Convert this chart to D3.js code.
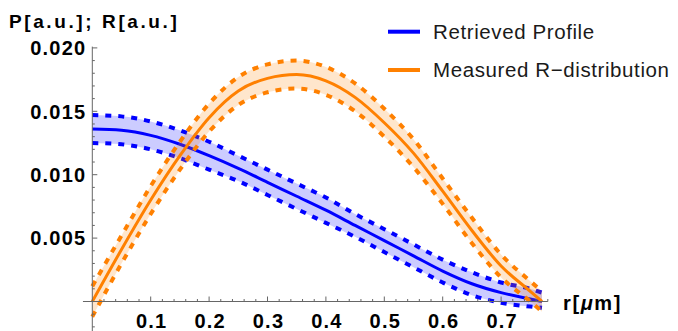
<!DOCTYPE html>
<html>
<head>
<meta charset="utf-8">
<script src="https://cdn.jsdelivr.net/npm/d3@7"></script>
<style>
    body { margin: 0; background: #fff; }
    text { font-family: "Liberation Sans", Arial, sans-serif; }
</style>
</head>
<body>
<svg id="chart"></svg>
<script>
// radius grid, micrometres
const rValues = [0, 0.05, 0.10, 0.15, 0.20, 0.25, 0.30, 0.35, 0.40, 0.45, 0.50, 0.55, 0.60, 0.65, 0.70, 0.75, 0.77];

// retrieved profile P(r) with its band
const blueMean = [0.0136, 0.0135, 0.0131, 0.0124, 0.0115, 0.0105, 0.0094, 0.0083, 0.0072, 0.0060, 0.0048, 0.0036, 0.0024, 0.0014, 0.0007, 0.0002, 0.0000];
const blueHigh = [0.0147, 0.0146, 0.0142, 0.0135, 0.0126, 0.0115, 0.0104, 0.0093, 0.0082, 0.0069, 0.0057, 0.0045, 0.0033, 0.0023, 0.0015, 0.0010, 0.0007];
const blueLow  = [0.0125, 0.0124, 0.0120, 0.0113, 0.0104, 0.0095, 0.0084, 0.0073, 0.0062, 0.0051, 0.0039, 0.0027, 0.0015, 0.0005, -0.0001, -0.0004, -0.0005];

// measured R distribution with its band
const orangeMean = [0.0000, 0.0041, 0.0080, 0.0115, 0.0145, 0.0166, 0.0176, 0.0179, 0.0174, 0.0161, 0.0141, 0.0117, 0.0087, 0.0056, 0.0028, 0.0008, 0.0000];
const orangeHigh = [0.0012, 0.0052, 0.0091, 0.0126, 0.0156, 0.0177, 0.0187, 0.0190, 0.0185, 0.0172, 0.0152, 0.0128, 0.0097, 0.0066, 0.0037, 0.0016, 0.0008];
const orangeLow  = [-0.0012, 0.0030, 0.0069, 0.0104, 0.0134, 0.0155, 0.0165, 0.0168, 0.0163, 0.0150, 0.0130, 0.0106, 0.0077, 0.0046, 0.0019, 0.0000, -0.0008];

const xTicks = [0.1, 0.2, 0.3, 0.4, 0.5, 0.6, 0.7];
const xTickLabels = ['0.1', '0.2', '0.3', '0.4', '0.5', '0.6', '0.7'];
const yTicks = [0.005, 0.010, 0.015, 0.020];
const yTickLabels = ['0.005', '0.010', '0.015', '0.020'];
const seriesNames = ['Retrieved Profile', 'Measured R\u2212distribution'];

class BandChart {
    constructor(config) {
        this.config = {
            parent: config.parent,
            width: config.width || 678,
            height: config.height || 331
        };
        this.init();
    }

    init() {
        let self = this;

        self.svg = d3.select(self.config.parent)
            .attr('width', self.config.width)
            .attr('height', self.config.height);

        self.xscale = d3.scaleLinear()
            .domain([0, 0.7])
            .range([92.3, 501.1]);

        self.yscale = d3.scaleLinear()
            .domain([0, 0.02])
            .range([301.5, 47.9]);

        self.plot = self.svg.append('g');
        self.axes = self.svg.append('g');
    }

    render() {
        let self = this;
        const x = self.xscale, y = self.yscale;

        const series = [
            { mean: blueMean, low: blueLow, high: blueHigh, color: '#0000ff', fill: 'rgba(0,0,255,0.2)' },
            { mean: orangeMean, low: orangeLow, high: orangeHigh, color: '#ff8000', fill: 'rgba(255,128,0,0.2)' }
        ];

        const area = (lo, hi) => d3.area()
            .x((d, i) => x(rValues[i]))
            .y0((d, i) => y(lo[i]))
            .y1((d, i) => y(hi[i]))
            .curve(d3.curveMonotoneX)(rValues);

        const line = vals => d3.line()
            .x((d, i) => x(rValues[i]))
            .y((d, i) => y(vals[i]))
            .curve(d3.curveMonotoneX)(rValues);

        series.forEach(s => {
            self.plot.append('path')
                .attr('d', area(s.low, s.high))
                .attr('fill', s.fill);
            [s.low, s.high].forEach(b => {
                self.plot.append('path')
                    .attr('d', line(b))
                    .attr('fill', 'none')
                    .attr('stroke', s.color)
                    .attr('stroke-width', 4)
                    .attr('stroke-dasharray', '6,7');
            });
            self.plot.append('path')
                .attr('d', line(s.mean))
                .attr('fill', 'none')
                .attr('stroke', s.color)
                .attr('stroke-width', 3);
        });

        // axes cross at the origin
        const axisColor = '#666';
        const gx = self.axes.append('g').attr('transform', `translate(0, ${y(0)})`);
        gx.append('line')
            .attr('x1', x(-0.016)).attr('x2', x(0.78))
            .attr('stroke', axisColor);
        const xMinor = d3.range(1, 40).map(k => k * 0.02).filter((v, i) => (i + 1) % 5 !== 0);
        gx.selectAll('.minor').data(xMinor).join('line')
            .attr('x1', d => x(d)).attr('x2', d => x(d))
            .attr('y1', 0).attr('y2', -2.5)
            .attr('stroke', axisColor);
        gx.selectAll('.major').data(xTicks).join('line')
            .attr('x1', d => x(d)).attr('x2', d => x(d))
            .attr('y1', 0).attr('y2', -5)
            .attr('stroke', axisColor);
        gx.selectAll('text').data(xTicks).join('text')
            .attr('x', d => x(d) + 1)
            .attr('y', 26)
            .attr('text-anchor', 'middle')
            .style('font-size', '20px')
            .style('font-weight', 'bold')
            .style('letter-spacing', '1.2px')
            .text((d, i) => xTickLabels[i]);

        const gy = self.axes.append('g').attr('transform', `translate(${x(0)}, 0)`);
        gy.append('line')
            .attr('y1', y(0.0201)).attr('y2', y(-0.0025))
            .attr('stroke', axisColor);
        const yMinor = d3.range(-2, 21).map(k => k * 0.001).filter(v => Math.round(v * 1000) % 5 !== 0);
        gy.selectAll('.minor').data(yMinor).join('line')
            .attr('y1', d => y(d)).attr('y2', d => y(d))
            .attr('x1', 0).attr('x2', 2.5)
            .attr('stroke', axisColor);
        gy.selectAll('.major').data(yTicks).join('line')
            .attr('y1', d => y(d)).attr('y2', d => y(d))
            .attr('x1', 0).attr('x2', 5)
            .attr('stroke', axisColor);
        gy.selectAll('text').data(yTicks).join('text')
            .attr('x', -6)
            .attr('y', d => y(d))
            .attr('dy', '0.36em')
            .attr('text-anchor', 'end')
            .style('font-size', '20px')
            .style('font-weight', 'bold')
            .style('letter-spacing', '1.2px')
            .text((d, i) => yTickLabels[i]);

        // axis labels
        self.svg.append('text')
            .attr('x', 9)
            .attr('y', 28)
            .style('font-size', '19px')
            .style('font-weight', 'bold')
            .style('letter-spacing', '2.6px')
            .text('P[a.u.]; R[a.u.]');

        const xl = self.svg.append('text')
            .attr('x', 563)
            .attr('y', 310)
            .style('font-size', '20px')
            .style('font-weight', 'bold')
            .style('letter-spacing', '1.6px');
        xl.append('tspan').text('r[');
        xl.append('tspan').style('font-style', 'italic').text('\u03bc');
        xl.append('tspan').text('m]');

        // legend
        const legend = self.svg.append('g');
        series.forEach((s, i) => {
            const ly = 31.7 + i * 38.3;
            legend.append('line')
                .attr('x1', 388).attr('x2', 420)
                .attr('y1', ly).attr('y2', ly)
                .attr('stroke', s.color)
                .attr('stroke-width', 4);
            legend.append('text')
                .attr('x', 433)
                .attr('y', ly + 7)
                .style('font-size', '20.5px')
                .style('letter-spacing', '0.6px')
                .attr('fill', '#1a1a1a')
                .text(seriesNames[i]);
        });
    }
}

const chart = new BandChart({ parent: '#chart', width: 678, height: 331 });
chart.render();
</script>
</body>
</html>
